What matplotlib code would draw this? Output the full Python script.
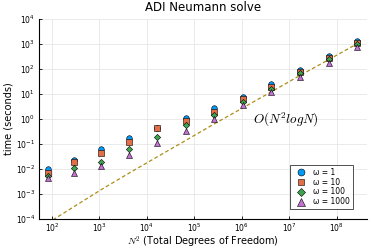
import matplotlib
matplotlib.use("Agg")
import matplotlib.pyplot as plt

# N^2 for N = 9, 17, 33, ..., 16385
n2 = [81, 289, 1089, 4225, 16641, 66049, 263169, 1050625,
      4198401, 16785409, 67125249, 268468225]

# solve times in seconds
t_w1 = [0.010, 0.024, 0.066, 0.17, 0.44, 1.07, 2.7, 7.8, 24, 91, 330, 1350]
t_w10 = [0.0072, 0.019, 0.044, 0.125, 0.45, 0.83, 1.96, 6.1, 19.6, 78, 282, 1120]
t_w100 = [0.0055, 0.011, 0.019, 0.062, 0.20, 0.60, 1.5, 4.8, 15.8, 67, 245, 970]
t_w1000 = [0.0042, 0.0070, 0.013, 0.036, 0.11, 0.34, 1.0, 3.6, 11.7, 49, 178, 780]

# O(N^2 log N) reference line
t_ref = [6.9e-5, 3.1e-4, 1.5e-3, 6.9e-3, 0.031, 0.14, 0.64, 2.8, 12.3, 55, 235, 1020]

labels = ["ω = 1", "ω = 10", "ω = 100", "ω = 1000"]
series = [t_w1, t_w10, t_w100, t_w1000]
colors = ["#009AFA", "#E36F47", "#3EA44E", "#C371D2"]
markers = ["o", "s", "D", "^"]
sizes = [4.0, 4.0, 3.2, 4.2]

fig = plt.figure(figsize=(3.74, 2.49), dpi=100)
ax = fig.add_axes([0.105, 0.12, 0.875, 0.804])

ax.plot(n2, t_ref, "--", color="#AC8E18", lw=0.9, dashes=(3, 2), zorder=2)
for t, lab, c, m, s in zip(series, labels, colors, markers, sizes):
    ax.plot(n2, t, ls="none", marker=m, ms=s, color=c, mec="black", mew=0.4,
            label=lab, zorder=3)

ax.set_xscale("log")
ax.set_yscale("log")
ax.set_xlim(10**1.735, 10**8.625)
ax.set_ylim(1e-4, 1e4)
ax.set_xticks([1e2, 1e3, 1e4, 1e5, 1e6, 1e7, 1e8])
ax.set_yticks([1e-4, 1e-3, 1e-2, 1e-1, 1e0, 1e1, 1e2, 1e3, 1e4])
ax.minorticks_off()
ax.tick_params(direction="in", length=2.5, width=0.6, labelsize=5.5)
ax.tick_params(axis="x", pad=2)
ax.tick_params(axis="y", pad=3)
ax.grid(True, color="#e6e6e6", lw=0.6)
ax.set_axisbelow(True)
for sp in ["top", "right"]:
    ax.spines[sp].set_visible(False)
for sp in ["left", "bottom"]:
    ax.spines[sp].set_linewidth(0.8)

ax.set_title("ADI Neumann solve", fontsize=8.5, pad=6)
ax.set_ylabel("time (seconds)", fontsize=7, labelpad=2)
ax.set_xlabel("$N^2$ (Total Degrees of Freedom)", fontsize=7,
              math_fontfamily="cm")
ax.xaxis.set_label_coords(0.5, -0.075)
ax.text(8.3e6, 0.9, "$O(N^2 logN)$", fontsize=9.5, ha="center", va="center",
        math_fontfamily="cm")

leg = ax.legend(loc="lower right", fontsize=5.5, frameon=True, fancybox=False,
                edgecolor="black", borderpad=0.4, labelspacing=0.1,
                handletextpad=0.6, markerscale=1.25, bbox_to_anchor=(0.97, 0.03))
leg.get_frame().set_linewidth(0.6)

fig.savefig("out.png", dpi=100)
